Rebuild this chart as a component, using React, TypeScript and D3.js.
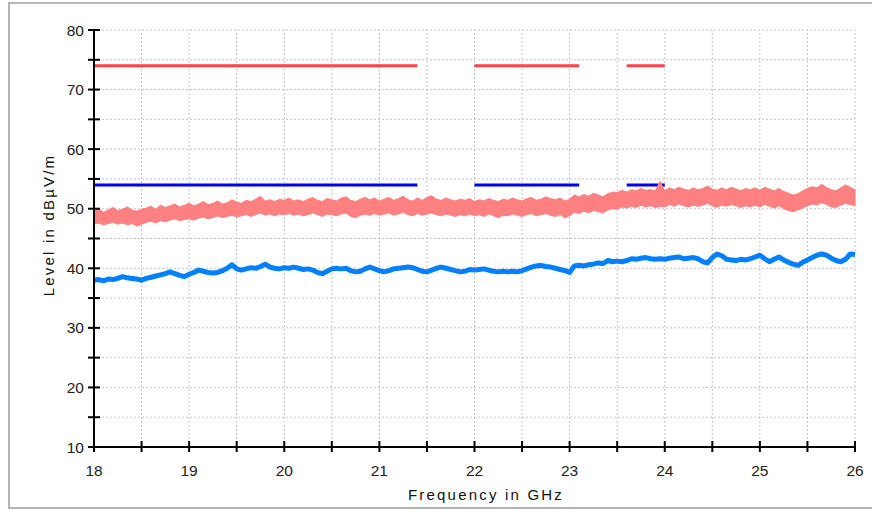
import React from "react";
import * as d3 from "d3";

const xTicks = [18, 19, 20, 21, 22, 23, 24, 25, 26];
const yTicks = [10, 20, 30, 40, 50, 60, 70, 80];
const xMinor = [18.5, 19.5, 20.5, 21.5, 22.5, 23.5, 24.5, 25.5];
const yMinor = [15, 25, 35, 45, 55, 65, 75];

const limitStart = [18, 22, 23.6];
const limitEnd = [21.4, 23.1, 24.0];
const peakLimit = 74;
const avgLimit = 54;

// sweep sampled every 0.05 GHz from 18 to 26 GHz (161 points)
const avgValues = [
  38.0, 38.1, 37.9, 38.2, 38.1, 38.3, 38.6, 38.4, 38.3, 38.2, 38.0, 38.3, 38.5, 38.7, 38.9, 39.1, 39.4, 39.1, 38.8, 38.6,
  39.0, 39.3, 39.7, 39.5, 39.3, 39.2, 39.3, 39.6, 40.0, 40.6, 39.9, 39.7, 39.9, 40.1, 40.0, 40.3, 40.7, 40.2, 40.0, 39.9,
  40.1, 40.0, 40.2, 40.0, 39.8, 39.9, 39.7, 39.3, 39.1, 39.5, 39.9, 40.0, 39.9, 40.0, 39.6, 39.4, 39.5, 39.9, 40.2, 39.9,
  39.6, 39.4, 39.6, 39.9, 40.0, 40.1, 40.2, 40.1, 39.8, 39.5, 39.4, 39.7, 40.0, 40.2, 40.0, 39.8, 39.6, 39.4, 39.5, 39.8,
  39.7, 39.8, 39.9, 39.7, 39.5, 39.4, 39.5, 39.4, 39.5, 39.4, 39.6, 39.9, 40.2, 40.4, 40.5, 40.3, 40.2, 40.0, 39.8, 39.6,
  39.3, 40.4, 40.5, 40.4, 40.6, 40.7, 40.9, 40.8, 41.3, 41.1, 41.2, 41.1, 41.3, 41.6, 41.5, 41.7, 41.8, 41.6, 41.5, 41.6,
  41.5, 41.7, 41.8, 41.9, 41.6, 41.7, 41.8, 41.6, 41.1, 40.9, 41.8, 42.4, 42.1, 41.5, 41.4, 41.3, 41.5, 41.4, 41.6, 41.9,
  42.2, 41.6, 41.1, 41.5, 41.9, 41.4, 41.0, 40.7, 40.5, 41.0, 41.4, 41.8, 42.2, 42.4, 42.2, 41.7, 41.3, 41.1, 41.5, 42.4,
  42.3,
];

const peakHi = [
  49.6, 50.0, 49.4, 49.8, 50.2, 49.7, 49.9, 50.3, 49.8, 49.6, 49.9, 50.1, 50.4, 49.9, 50.6, 50.2, 50.5, 50.8, 50.3, 50.6,
  50.9, 50.5, 50.8, 51.2, 50.7, 50.9, 51.3, 50.8, 51.0, 51.5, 51.1, 50.9, 51.4, 51.2, 51.6, 52.1, 51.3, 51.5, 51.2, 51.6,
  51.4, 51.8, 51.3, 51.5, 51.2, 51.6, 51.9, 51.4, 51.2, 51.7, 51.5, 51.3, 51.8, 52.0, 51.4, 51.2, 51.6, 51.9, 51.5, 51.8,
  51.3, 51.6, 51.9, 51.4, 51.7, 52.1, 51.5, 51.3, 51.8, 51.4, 51.9, 52.2, 51.6, 51.4, 51.8, 51.5, 51.3, 51.6, 51.4, 51.7,
  51.2, 51.5, 51.3, 51.7, 51.4, 51.2, 51.6, 51.4, 51.8, 51.5, 51.3, 51.7, 51.9, 51.4, 51.6, 52.0, 51.7, 51.5, 51.8, 51.3,
  51.6, 52.3, 52.0, 52.4, 52.1, 52.6, 52.3, 52.0, 52.5, 52.8, 52.7, 53.1, 52.8, 53.2, 53.0, 53.4, 53.1, 53.2, 53.0, 54.6,
  53.0, 53.5, 53.2, 53.6, 53.3, 53.1, 53.5, 53.2, 53.4, 53.8, 53.3, 53.1, 53.5, 53.2, 53.6, 53.3, 53.0, 53.4, 53.2, 53.5,
  53.1, 53.6, 53.3, 53.0, 53.4, 52.9, 52.6, 52.3, 52.5, 53.0, 53.4, 53.7, 53.5, 54.1, 53.6, 53.2, 53.0, 53.5, 54.0, 53.6,
  53.2,
];

const peakLo = [
  47.4, 47.6, 47.3, 47.5, 47.7, 47.4, 47.6, 47.3, 47.5, 47.1, 47.4, 47.7, 47.9, 47.6, 48.0, 47.8, 48.1, 48.3, 48.0, 48.2,
  48.3, 48.1, 48.4, 48.6, 48.3, 48.5, 48.8, 48.5, 48.7, 48.9, 48.6, 48.8, 49.0, 48.7, 49.0, 49.3, 48.9, 49.1, 48.8, 49.1,
  49.0, 49.2, 48.9, 49.1, 48.8, 49.0, 49.3, 49.0, 48.7, 49.1, 49.0, 48.8, 49.1, 49.3, 48.7, 48.5, 48.9, 49.1, 48.9, 49.2,
  48.9, 49.1, 49.3, 48.9, 49.1, 49.4, 49.0, 48.8, 49.2, 48.9, 49.1, 49.3, 49.0, 48.8, 49.1, 48.9, 48.7, 49.0, 48.8, 49.1,
  48.8, 49.0, 48.7, 49.1, 48.8, 48.5, 48.9, 48.8, 49.1, 48.9, 48.7, 49.0, 49.2, 48.8, 49.0, 49.2, 48.9, 48.7, 49.0, 48.5,
  48.8, 49.4, 49.2, 49.6, 49.3, 49.7, 49.5, 49.3, 49.8, 50.0, 49.9, 50.3, 50.1, 50.4, 50.2, 50.6, 50.3, 50.5, 50.2, 50.4,
  50.3, 50.7, 50.4, 50.8, 50.5, 50.3, 50.6, 50.4, 50.6, 50.9, 50.5, 50.2, 50.6, 50.4, 50.7, 50.5, 50.2, 50.5, 50.3, 50.6,
  50.3, 50.7, 50.4, 50.1, 50.5, 50.0, 49.7, 49.5, 49.8, 50.1, 50.5, 50.8, 50.6, 51.0, 50.7, 50.3, 50.2, 50.6, 50.9, 50.7,
  50.5,
];

const freqs = avgValues.map((_, i) => 18 + i * 0.05);

const W = 872;
const H = 510;
const FONT = "'Liberation Sans', Arial, sans-serif";

export default function App() {
  const x = d3.scaleLinear().domain([18, 26]).range([94, 855]);
  const y = d3.scaleLinear().domain([10, 80]).range([447, 30]);

  const peakArea = d3
    .area<number>()
    .x((_, i) => x(freqs[i]))
    .y0((_, i) => y(peakLo[i]))
    .y1((d) => y(d));
  const avgLine = d3
    .line<number>()
    .x((_, i) => x(freqs[i]))
    .y((d) => y(d));

  const gridX = [...xMinor, ...xTicks.slice(1)];
  const gridY = [...yMinor, ...yTicks.slice(1)];

  return (
    <svg
      width={W}
      height={H}
      style={{ position: "absolute", left: 0, top: 0, background: "#fff" }}
    >
      <rect x={9} y={3} width={880} height={505} fill="#fff" stroke="#b4b4b4" strokeWidth={2} />
      {gridX.map((v) => (
        <line key={"gx" + v} x1={x(v)} x2={x(v)} y1={y(10)} y2={y(80)} stroke="#c4c4c4" strokeWidth={1} strokeDasharray="2,2" />
      ))}
      {gridY.map((v) => (
        <line key={"gy" + v} x1={x(18)} x2={x(26)} y1={y(v)} y2={y(v)} stroke="#c4c4c4" strokeWidth={1} strokeDasharray="2,2" />
      ))}
      {limitStart.map((s, i) => (
        <g key={"lim" + i}>
          <line x1={x(s)} x2={x(limitEnd[i])} y1={y(peakLimit)} y2={y(peakLimit)} stroke="#ff4444" strokeWidth={3} />
          <line x1={x(s)} x2={x(limitEnd[i])} y1={y(avgLimit)} y2={y(avgLimit)} stroke="#0000f0" strokeWidth={3} />
        </g>
      ))}
      <path d={peakArea(peakHi) || ""} fill="#ff8080" stroke="#ff8080" strokeWidth={1} />
      <path d={avgLine(avgValues) || ""} fill="none" stroke="#0080ff" strokeWidth={5} strokeLinejoin="round" />
      {/* axes */}
      <line x1={x(18)} x2={x(18)} y1={y(80)} y2={y(10)} stroke="#000" strokeWidth={2} />
      <line x1={x(18)} x2={x(26)} y1={y(10)} y2={y(10)} stroke="#000" strokeWidth={2} />
      {[...yTicks, ...yMinor].map((v) => (
        <line key={"ty" + v} x1={x(18) - 6} x2={x(18) + 6} y1={y(v)} y2={y(v)} stroke="#000" strokeWidth={2} />
      ))}
      {[...xTicks, ...xMinor].map((v) => (
        <line key={"tx" + v} x1={x(v)} x2={x(v)} y1={y(10) - 6} y2={y(10) + 5} stroke="#000" strokeWidth={2} />
      ))}
      {yTicks.map((v) => (
        <text key={"ly" + v} x={84} y={y(v)} dy="0.36em" textAnchor="end" fontFamily={FONT} fontSize={15.5} fill="#222">
          {v}
        </text>
      ))}
      {xTicks.map((v) => (
        <text key={"lx" + v} x={x(v)} y={476} textAnchor="middle" fontFamily={FONT} fontSize={15.5} fill="#222">
          {v}
        </text>
      ))}
      <text x={486} y={500} textAnchor="middle" fontFamily={FONT} fontSize={15} letterSpacing={2.2} fill="#111">
        Frequency in GHz
      </text>
      <text
        transform={`translate(54,225) rotate(-90)`}
        textAnchor="middle"
        fontFamily={FONT}
        fontSize={15}
        letterSpacing={2.2}
        fill="#111"
      >
        Level in dBµV/m
      </text>
    </svg>
  );
}
